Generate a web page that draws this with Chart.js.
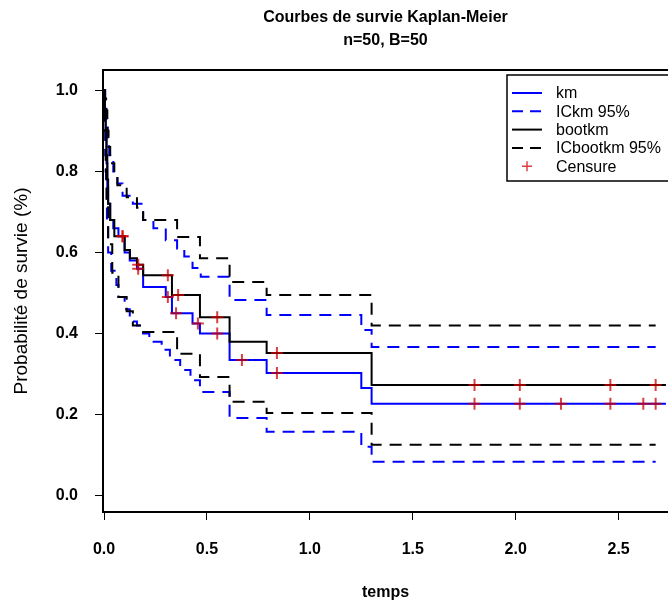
<!DOCTYPE html>
<html lang="fr">
<head>
<meta charset="utf-8">
<title>Courbes de survie Kaplan-Meier</title>
<script src="https://cdn.jsdelivr.net/npm/chart.js@4.4.1/dist/chart.umd.min.js"></script>
<style>
  html, body { margin: 0; padding: 0; background: #fff; }
  #wrap { width: 668px; height: 610px; }
</style>
</head>
<body>
<div id="wrap"><canvas id="survChart" width="668" height="610"></canvas></div>
<script>
const xTicks = [0, 0.5, 1, 1.5, 2, 2.5];
const yTicks = [0, 0.2, 0.4, 0.6, 0.8, 1];
const tFin = 2.73;

// km : temps des sauts et survie juste après chaque saut
const kmTemps = [0, 0.004, 0.008, 0.012, 0.016, 0.02, 0.03, 0.045, 0.07, 0.10, 0.125, 0.16, 0.19, 0.30, 0.33, 0.43, 0.466, 0.61, 0.79, 1.25, 1.30];
const kmSurv  = [1, 0.94, 0.88, 0.82, 0.76, 0.72, 0.68, 0.66, 0.64, 0.60, 0.58, 0.56, 0.515, 0.49, 0.45, 0.425, 0.40, 0.335, 0.303, 0.266, 0.227];

// IC 95% du km
const kmHautTemps = [0, 0.006, 0.012, 0.018, 0.025, 0.045, 0.065, 0.09, 0.14, 0.19, 0.24, 0.30, 0.355, 0.39, 0.43, 0.47, 0.61, 0.79, 1.25, 1.30];
const kmHaut      = [1, 0.96, 0.92, 0.88, 0.84, 0.80, 0.77, 0.74, 0.72, 0.68, 0.66, 0.63, 0.61, 0.59, 0.562, 0.54, 0.483, 0.446, 0.409, 0.367];
const kmBasTemps  = [0, 0.003, 0.006, 0.01, 0.014, 0.02, 0.035, 0.06, 0.07, 0.10, 0.125, 0.16, 0.19, 0.22, 0.28, 0.32, 0.37, 0.42, 0.466, 0.61, 0.79, 1.25, 1.30];
const kmBas       = [1, 0.92, 0.84, 0.76, 0.68, 0.60, 0.555, 0.52, 0.49, 0.46, 0.43, 0.42, 0.40, 0.38, 0.36, 0.335, 0.31, 0.285, 0.256, 0.192, 0.158, 0.121, 0.084];

// km bootstrap (B=50)
const bootTemps = [0, 0.004, 0.008, 0.012, 0.016, 0.02, 0.03, 0.05, 0.10, 0.126, 0.16, 0.19, 0.33, 0.466, 0.61, 0.79, 1.30];
const bootSurv  = [1, 0.95, 0.90, 0.84, 0.78, 0.72, 0.68, 0.64, 0.606, 0.586, 0.57, 0.544, 0.495, 0.44, 0.38, 0.352, 0.273];

// IC 95% bootstrap
const bootHautTemps = [0, 0.004, 0.01, 0.016, 0.022, 0.03, 0.05, 0.065, 0.11, 0.16, 0.19, 0.355, 0.466, 0.61, 0.79, 1.30];
const bootHaut      = [1, 0.98, 0.95, 0.90, 0.86, 0.82, 0.795, 0.766, 0.736, 0.71, 0.68, 0.638, 0.586, 0.527, 0.495, 0.42];
const bootBasTemps  = [0, 0.004, 0.008, 0.012, 0.02, 0.04, 0.07, 0.11, 0.14, 0.19, 0.355, 0.466, 0.61, 0.79, 1.30];
const bootBas       = [1, 0.90, 0.80, 0.72, 0.62, 0.55, 0.49, 0.455, 0.42, 0.404, 0.35, 0.293, 0.232, 0.204, 0.126];

// temps censurés
const censKm   = [0.09, 0.166, 0.31, 0.35, 0.456, 0.55, 0.67, 0.84, 1.80, 2.02, 2.22, 2.46, 2.62, 2.68];
const censBoot = [0.09, 0.166, 0.31, 0.36, 0.55, 0.84, 1.80, 2.02, 2.46, 2.68];

const BLEU = '#0000ff';
const NOIR = '#000000';
const ROUGE = 'rgba(205, 0, 0, 0.75)';
const TIRETS = [12, 8];

// courbe en escalier : un point par saut, puis prolongée jusqu'à fin
function escalier(temps, surv, fin) {
  const pts = temps.map((t, i) => ({ x: t, y: surv[i] }));
  pts.push({ x: fin, y: surv[surv.length - 1] });
  return pts;
}

// valeur de la courbe au temps t (pour placer les croix de censure)
function survieA(temps, surv, t) {
  let v = surv[0];
  for (let i = 0; i < temps.length; i++) {
    if (temps[i] <= t) v = surv[i];
  }
  return v;
}

function courbe(label, temps, surv, color, dash, order, fin) {
  return {
    label: label,
    data: escalier(temps, surv, fin),
    borderColor: color,
    borderWidth: 2,
    borderDash: dash,
    stepped: 'before',
    pointRadius: 0,
    fill: false,
    order: order,
  };
}

function croix(temps, surv, cens) {
  return {
    label: 'Censure',
    data: cens.map(t => ({ x: t, y: survieA(temps, surv, t) })),
    showLine: false,
    pointStyle: 'cross',
    pointRadius: 6,
    pointBorderWidth: 2,
    pointBorderColor: ROUGE,
    borderColor: ROUGE,
    order: 0,
  };
}

const police = '"Liberation Sans", Arial, Helvetica, sans-serif';

// cadre du graphique (gauche, haut, bas)
const cadre = {
  id: 'cadre',
  afterDatasetsDraw(chart) {
    const { ctx, chartArea: a } = chart;
    ctx.save();
    ctx.strokeStyle = '#000';
    ctx.lineWidth = 2;
    ctx.beginPath();
    ctx.moveTo(a.right + 2, a.top);
    ctx.lineTo(a.left, a.top);
    ctx.lineTo(a.left, a.bottom);
    ctx.lineTo(a.right + 2, a.bottom);
    ctx.stroke();
    ctx.restore();
  }
};

// légende dans le coin haut droit, dans le style de R
const legende = {
  id: 'legende',
  afterDraw(chart) {
    const { ctx, chartArea: a } = chart;
    const vus = new Set();
    const items = chart.data.datasets.filter(ds => {
      if (vus.has(ds.label)) return false;
      vus.add(ds.label);
      return true;
    });
    const x0 = a.right - 161;
    const y0 = a.top + 5;
    const h = 106;
    ctx.save();
    ctx.fillStyle = '#fff';
    ctx.fillRect(x0, y0, 200, h);
    ctx.strokeStyle = '#000';
    ctx.lineWidth = 1.5;
    ctx.beginPath();
    ctx.moveTo(x0 + 200, y0);
    ctx.lineTo(x0, y0);
    ctx.lineTo(x0, y0 + h);
    ctx.lineTo(x0 + 200, y0 + h);
    ctx.stroke();
    ctx.font = '16px ' + police;
    ctx.textBaseline = 'middle';
    items.forEach((ds, i) => {
      const y = y0 + 18 + i * 18.3;
      if (ds.showLine === false) {
        ctx.strokeStyle = ROUGE;
        ctx.lineWidth = 1.5;
        ctx.setLineDash([]);
        ctx.beginPath();
        ctx.moveTo(x0 + 15, y);
        ctx.lineTo(x0 + 25, y);
        ctx.moveTo(x0 + 20, y - 5);
        ctx.lineTo(x0 + 20, y + 5);
        ctx.stroke();
      } else {
        ctx.strokeStyle = ds.borderColor;
        ctx.lineWidth = 2;
        ctx.setLineDash(ds.borderDash && ds.borderDash.length ? [11, 7] : []);
        ctx.beginPath();
        ctx.moveTo(x0 + 5, y);
        ctx.lineTo(x0 + 35, y);
        ctx.stroke();
      }
      ctx.setLineDash([]);
      ctx.fillStyle = '#000';
      ctx.fillText(ds.label, x0 + 49, y + 1);
    });
    ctx.restore();
  }
};

const ctx = document.getElementById('survChart').getContext('2d');

const survChart = new Chart(ctx, {
  type: 'line',
  data: {
    datasets: [
      courbe('km', kmTemps, kmSurv, BLEU, [], 4, tFin),
      courbe('ICkm 95%', kmHautTemps, kmHaut, BLEU, TIRETS, 5, 2.68),
      courbe('ICkm 95%', kmBasTemps, kmBas, BLEU, TIRETS, 5, 2.68),
      courbe('bootkm', bootTemps, bootSurv, NOIR, [], 1, tFin),
      courbe('ICbootkm 95%', bootHautTemps, bootHaut, NOIR, TIRETS, 2, 2.68),
      courbe('ICbootkm 95%', bootBasTemps, bootBas, NOIR, TIRETS, 2, 2.68),
      croix(kmTemps, kmSurv, censKm),
      croix(bootTemps, bootSurv, censBoot),
    ],
  },
  options: {
    responsive: false,
    animation: false,
    events: [],
    layout: { padding: 0, autoPadding: false },
    plugins: {
      legend: { display: false },
      tooltip: { enabled: false },
      title: {
        display: true,
        fullSize: false,
        text: ['Courbes de survie Kaplan-Meier', 'n=50, B=50'],
        color: '#000',
        font: { family: police, size: 16, weight: 'bold', lineHeight: 1.45 },
        padding: { top: 6, bottom: 17.6 },
      },
    },
    scales: {
      x: {
        type: 'linear',
        min: -0.005,
        max: 2.74,
        afterBuildTicks: s => { s.ticks = xTicks.map(v => ({ value: v })); },
        afterFit: s => { s.height = 98; s.paddingLeft = 0; s.paddingRight = 0; },
        ticks: {
          callback: v => v.toFixed(1),
          color: '#000',
          font: { family: police, size: 16, weight: 'bold' },
          padding: 20,
          maxRotation: 0,
          autoSkip: false,
        },
        grid: { drawOnChartArea: false, drawTicks: true, tickLength: 8, color: '#000', lineWidth: 1 },
        border: { display: false },
        title: {
          display: true,
          text: 'temps',
          color: '#000',
          font: { family: police, size: 16, weight: 'bold' },
          padding: { top: 0, bottom: 8 },
        },
      },
      y: {
        type: 'linear',
        min: -0.04,
        max: 1.05,
        afterBuildTicks: s => { s.ticks = yTicks.map(v => ({ value: v })); },
        afterFit: s => { s.width = 103; },
        ticks: {
          callback: v => v.toFixed(1),
          color: '#000',
          font: { family: police, size: 16, weight: 'bold' },
          padding: 17,
          autoSkip: false,
        },
        grid: { drawOnChartArea: false, drawTicks: true, tickLength: 8, color: '#000', lineWidth: 1 },
        border: { display: false },
        title: {
          display: true,
          text: 'Probabilité de survie (%)',
          color: '#000',
          font: { family: police, size: 19 },
          padding: { top: 10, bottom: 0 },
        },
      },
    },
  },
  plugins: [cadre, legende],
});
</script>
</body>
</html>
